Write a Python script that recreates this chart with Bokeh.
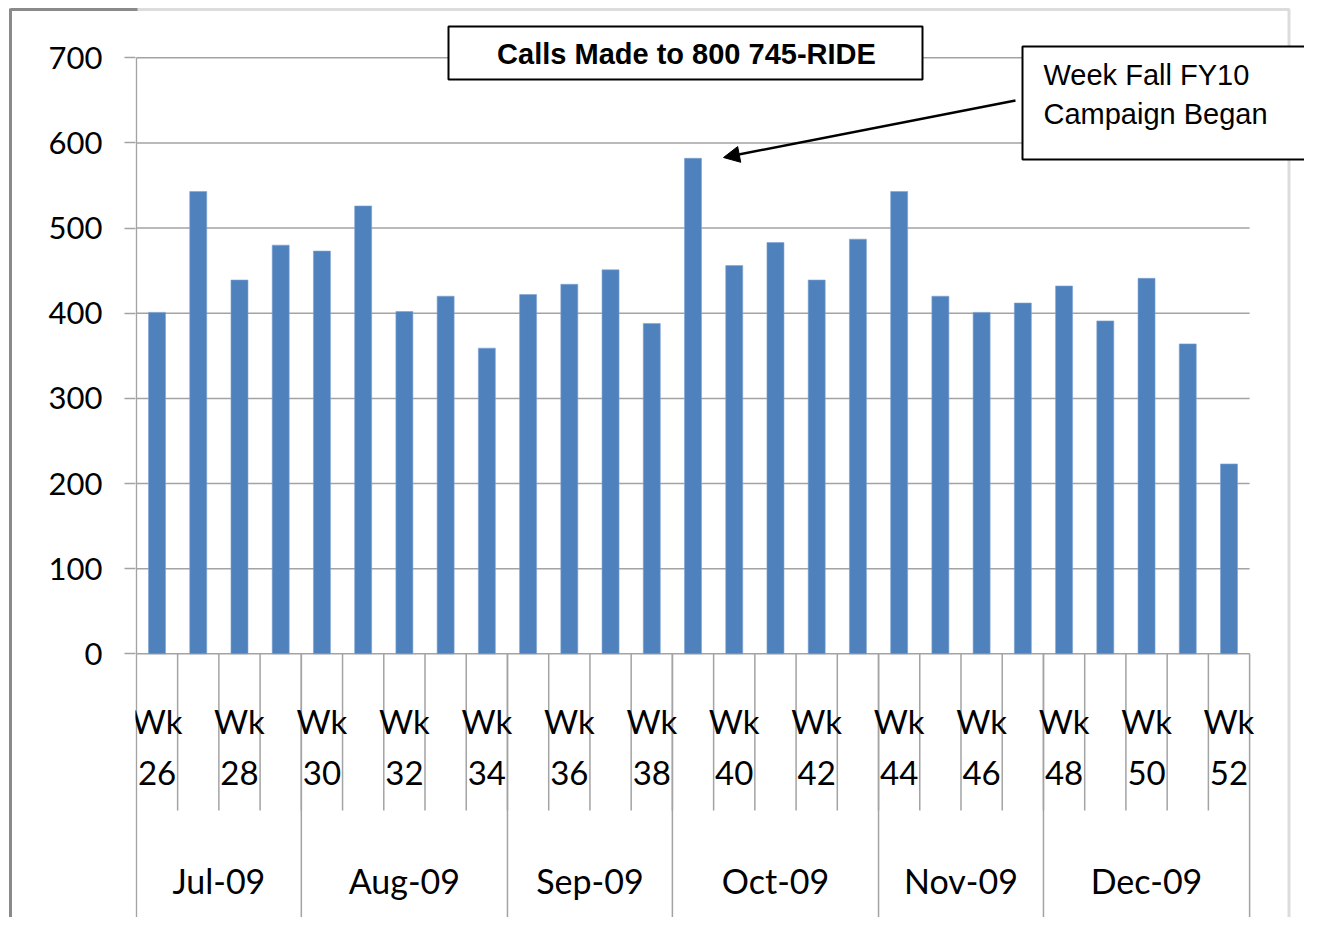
from bokeh.plotting import figure
from bokeh.models import (Range1d, FixedTicker, Arrow, NormalHead, BoxAnnotation, LinearAxis,
                          CustomJSTickFormatter)
from bokeh.core.properties import value
from bokeh.embed import file_html
from bokeh.resources import INLINE

# ---------------- data ----------------
weeks = list(range(26, 53))
calls = [401, 543, 439, 480, 473, 526, 402, 420, 359, 422, 434, 451, 388, 582,
         456, 483, 439, 487, 543, 420, 401, 412, 432, 391, 441, 364, 223]
week_tick_labels = ["Wk 26", "Wk 28", "Wk 30", "Wk 32", "Wk 34", "Wk 36", "Wk 38",
                    "Wk 40", "Wk 42", "Wk 44", "Wk 46", "Wk 48", "Wk 50", "Wk 52"]
labelled_weeks = [26, 28, 30, 32, 34, 36, 38, 40, 42, 44, 46, 48, 50, 52]
months = ["Jul-09", "Aug-09", "Sep-09", "Oct-09", "Nov-09", "Dec-09"]
weeks_per_month = [4, 5, 4, 5, 4, 5]
y_ticks = [0, 100, 200, 300, 400, 500, 600, 700]
title_text = "Calls Made to 800 745-RIDE"
note_lines = ["Week Fall FY10", "Campaign Began"]

# ---------------- geometry helpers (reference pixel -> data) ----------------
Y0_PX, PX_PER_UNIT = 653.3, 0.8514
X0_PX, PX_PER_CAT = 135.9, 41.23


def vy(py):
    return (Y0_PX - py) / PX_PER_UNIT


def cx(px):
    return (px - X0_PX) / PX_PER_CAT - 0.5


W, H = 1304, 917
LEFT = 135
p = figure(width=W, height=H, output_backend="svg", toolbar_location=None,
           x_axis_location=None,
           x_range=Range1d(cx(LEFT), cx(W)),
           y_range=Range1d(vy(H), vy(0)),
           min_border_left=LEFT, min_border_right=0, min_border_top=0, min_border_bottom=0)
p.outline_line_color = None
p.background_fill_color = "white"
p.border_fill_color = "white"
p.xgrid.visible = False
p.ygrid.visible = False

GRAY = "#a3a3a3"
FRAME = "#8a8a8a"
n = len(weeks)
xs = [w - weeks[0] for w in weeks]

# y axis
ax = p.yaxis[0]
ax.ticker = FixedTicker(ticks=y_ticks)
ax.axis_line_color = None
ax.major_tick_out = 11
ax.major_tick_in = 0
ax.major_tick_line_color = GRAY
ax.major_tick_line_width = 1.5
ax.minor_tick_line_color = None
ax.major_label_text_font = "Lato"
ax.major_label_text_font_size = "31px"
ax.major_label_text_color = "black"
ax.major_label_standoff = 22
ax.axis_label = " "
ax.axis_label_text_font_size = "19px"
ax.axis_label_standoff = 11

# outer chart border (left edge + top-left piece) drawn as a bare axis
border_axis = LinearAxis(ticker=FixedTicker(ticks=[vy(9)]), axis_line_color=FRAME,
                         axis_line_width=3, major_tick_line_color=FRAME,
                         major_tick_line_width=3, major_tick_in=127, major_tick_out=0,
                         minor_tick_line_color=None, major_label_standoff=0,
                         formatter=CustomJSTickFormatter(code="return ''"),
                         bounds=(vy(H + 40), vy(7.5)))
p.add_layout(border_axis, "left")

# grid lines (only over the category span)
p.segment(x0=[-0.5] * len(y_ticks), x1=[n - 0.5] * len(y_ticks), y0=y_ticks, y1=y_ticks,
          line_color=GRAY, line_width=1.5)
# y axis line
p.segment(x0=[-0.5], x1=[-0.5], y0=[0], y1=[y_ticks[-1]], line_color=GRAY, line_width=1.5)

# bars
p.vbar(x=xs, top=calls, width=17 / PX_PER_CAT, fill_color="#4F81BD",
       line_color="#7EA3D3", line_width=0.6)

# category axis: week separators
wb = [k - 0.5 for k in range(1, n)]
p.segment(x0=wb, x1=wb, y0=[0] * len(wb), y1=[vy(810)] * len(wb), line_color=GRAY, line_width=1.5)
# month separators
mb = [-0.5]
acc = 0
for c in weeks_per_month:
    acc += c
    mb.append(acc - 0.5)
p.segment(x0=mb, x1=mb, y0=[0] * len(mb), y1=[vy(917)] * len(mb), line_color=GRAY, line_width=1.5)

# week labels (two lines)
lx = [w - weeks[0] for w in labelled_weeks]
p.text(x=lx, y=[vy(720)] * len(lx), text=[t.split(" ")[0] for t in week_tick_labels],
       text_font=value("Lato"), text_font_size="33px", text_align="center",
       text_baseline="middle", text_color="black")
p.text(x=lx, y=[vy(772)] * len(lx), text=[t.split(" ")[1] for t in week_tick_labels],
       text_font=value("Lato"), text_font_size="33px", text_align="center",
       text_baseline="middle", text_color="black")

# month labels
mc = [(mb[i] + mb[i + 1]) / 2 for i in range(len(months))]
p.text(x=mc, y=[vy(880)] * len(mc), text=months, text_font=value("Lato"),
       text_font_size="34px", text_align="center", text_baseline="middle", text_color="black")

# title box
p.quad(left=[cx(448)], right=[cx(922)], top=[vy(26)], bottom=[vy(79)],
       fill_color="white", line_color="black", line_width=2)
p.text(x=[cx(686)], y=[vy(53)], text=[title_text], text_font=value("Liberation Sans"),
       text_font_style="bold", text_font_size="29px", text_align="center",
       text_baseline="middle", text_color="black")

# note box
p.quad(left=[cx(1022)], right=[cx(1340)], top=[vy(46)], bottom=[vy(159)],
       fill_color="white", line_color="black", line_width=2)
p.text(x=[cx(1043)] * 2, y=[vy(74), vy(113)], text=note_lines,
       text_font=value("Liberation Sans"), text_font_size="29px", text_align="left",
       text_baseline="middle", text_color="black")

# arrow
p.add_layout(Arrow(x_start=cx(1015), y_start=vy(100), x_end=cx(723), y_end=vy(157),
                   line_color="black", line_width=2.5,
                   end=NormalHead(size=16, fill_color="black", line_color="black")))

# outer gray frame (top and right edges inside the plot area)
p.add_layout(BoxAnnotation(left=cx(9.5), right=cx(1288.5), top=vy(9), bottom=vy(990),
                           fill_alpha=0, line_color=FRAME, line_width=3,
                           level="underlay"))

open("out.html", "w").write(file_html(p, INLINE))
